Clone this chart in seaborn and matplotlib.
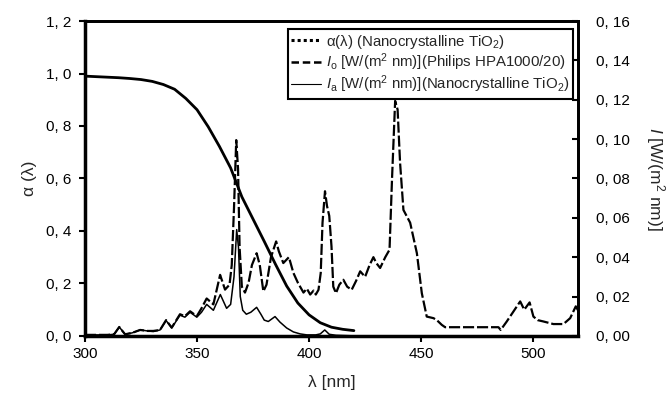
import numpy as np
import pandas as pd
import seaborn as sns
import matplotlib.pyplot as plt
from matplotlib.ticker import FuncFormatter, MultipleLocator
from matplotlib.lines import Line2D

# ---- data ----
alpha_wl = [300, 305, 310, 315, 320, 325, 330, 335, 340, 345, 350, 355, 360, 365, 370,
            375, 380, 385, 390, 395, 400, 405, 410, 415, 420]
alpha_val = [0.99, 0.988, 0.986, 0.984, 0.981, 0.977, 0.97, 0.958, 0.94, 0.905, 0.862,
             0.797, 0.722, 0.64, 0.53, 0.445, 0.36, 0.273, 0.19, 0.125, 0.08, 0.05,
             0.033, 0.025, 0.02]

io_wl = [300, 305, 310, 313, 315.3, 317.9, 321, 324.6, 328, 330.5, 333.5, 336.2, 338.7,
         342.4, 344.6, 346.9, 349.9, 352, 354.3, 357.3, 360.3, 362.5, 364.5, 365.5,
         366.5, 367.5, 368.3, 369, 370, 371.4, 373, 374.5, 376.6, 378, 379.6, 381, 383,
         385.3, 386.5, 388.5, 391, 393, 395, 397.5, 399, 400.5, 402, 403, 404.2, 405.2,
         406, 407.1, 408, 409, 410, 410.8, 412, 413.5, 415.3, 417, 419, 421, 422.8, 425,
         427, 428.7, 430, 431.7, 434, 435.9, 437, 438.4, 439.5, 440.6, 442.1, 445.1,
         448.1, 450.3, 452.5, 455.5, 457, 459.2, 460.7, 470, 484.5, 485.5, 488.2, 491.2,
         494.2, 496, 498.4, 500.1, 502, 504.6, 509, 513.5, 516.5, 519, 520]
io_val = [0.0005, 0.0005, 0.0005, 0.0008, 0.0045, 0.0008, 0.0015, 0.003, 0.0025, 0.0025,
          0.003, 0.008, 0.0042, 0.011, 0.010, 0.0125, 0.010, 0.014, 0.019, 0.016, 0.031,
          0.0235, 0.026, 0.036, 0.065, 0.0995, 0.085, 0.045, 0.025, 0.022, 0.027, 0.036,
          0.042, 0.036, 0.0226, 0.026, 0.040, 0.048, 0.043, 0.037, 0.040, 0.032, 0.027,
          0.022, 0.024, 0.021, 0.023, 0.021, 0.0234, 0.032, 0.0575, 0.0735, 0.066, 0.061,
          0.0455, 0.025, 0.0217, 0.026, 0.0285, 0.025, 0.0234, 0.028, 0.0328, 0.030,
          0.036, 0.040, 0.037, 0.0345, 0.040, 0.0438, 0.0795, 0.1194, 0.115, 0.088,
          0.064, 0.0575, 0.042, 0.0217, 0.0098, 0.009, 0.008, 0.0056, 0.0044, 0.0044,
          0.0044, 0.003, 0.0073, 0.0124, 0.0175, 0.0133, 0.017, 0.0098, 0.008, 0.0073,
          0.006, 0.006, 0.009, 0.015, 0.013]

ia_wl = [300, 305, 310, 313, 315.3, 317.9, 321, 324.6, 328, 330.5, 333.5, 336.2, 338.7,
         342.4, 344.6, 346.9, 349.9, 352, 354.3, 357.3, 360.4, 363.2, 365, 366.5, 367.7,
         368.5, 369.3, 370.4, 372, 374, 376.6, 378.5, 380, 381.8, 384.8, 387, 390, 393,
         396, 399, 403, 405, 407, 409, 412, 420]
ia_val = [0.0005, 0.0005, 0.0005, 0.0008, 0.0045, 0.0008, 0.0015, 0.003, 0.0025, 0.0022,
          0.003, 0.0078, 0.004, 0.0105, 0.0095, 0.012, 0.0095, 0.012, 0.016, 0.013, 0.021,
          0.014, 0.016, 0.03, 0.054, 0.045, 0.02, 0.013, 0.011, 0.012, 0.0145, 0.011,
          0.008, 0.0073, 0.0098, 0.007, 0.004, 0.002, 0.001, 0.0005, 0.0005, 0.001,
          0.003, 0.0008, 0.0003, 0.0]

legend_labels = [
    "α(λ) (Nanocrystalline TiO$_2$)",
    r"$I_\mathrm{o}$ [W/(m$^2$ nm)](Philips HPA1000/20)",
    r"$I_\mathrm{a}$ [W/(m$^2$ nm)](Nanocrystalline TiO$_2$)",
]

# ---- style ----
sns.set_theme(style="ticks")
plt.rcParams['font.family'] = ['Liberation Sans', 'DejaVu Sans']
plt.rcParams['mathtext.fontset'] = 'custom'
plt.rcParams['mathtext.rm'] = 'Liberation Sans'
plt.rcParams['mathtext.it'] = 'Liberation Sans:italic'
plt.rcParams['mathtext.bf'] = 'Liberation Sans:bold'

fig = plt.figure(figsize=(6.69, 3.97), dpi=100)
ax = fig.add_axes([0.127, 0.154, 0.737, 0.793])
ax2 = ax.twinx()

sns.lineplot(x=alpha_wl, y=alpha_val, ax=ax, color='black', linewidth=2.0,
             legend=False, sort=False)
sns.lineplot(x=io_wl, y=io_val, ax=ax2, color='black', linewidth=1.6,
             linestyle=(0, (5, 1.3)), legend=False, sort=False)
sns.lineplot(x=ia_wl, y=ia_val, ax=ax2, color='black', linewidth=1.1,
             legend=False, sort=False)

ax.set_xlim(300, 520)
ax.set_ylim(0, 1.2)
ax2.set_ylim(0, 0.16)

ax.xaxis.set_major_locator(MultipleLocator(50))
ax.yaxis.set_major_locator(MultipleLocator(0.2))
ax2.yaxis.set_major_locator(MultipleLocator(0.02))
ax.xaxis.set_major_formatter(FuncFormatter(lambda v, p: f"{v:.0f}"))
ax.yaxis.set_major_formatter(FuncFormatter(lambda v, p: f"{v:.1f}".replace('.', ', ')))
ax2.yaxis.set_major_formatter(FuncFormatter(lambda v, p: f"{v:.2f}".replace('.', ', ')))

ax.tick_params(axis='x', direction='out', length=4, width=1.5, labelsize=11,
               colors='black', pad=4)
ax.tick_params(axis='y', direction='out', length=4, width=1.5, labelsize=11,
               colors='black', pad=6)
ax2.tick_params(axis='y', direction='in', length=4, width=1.5, labelsize=11,
                colors='black', pad=13)

for a in (ax, ax2):
    for s in a.spines.values():
        s.set_visible(True)
        s.set_color('black')
        s.set_linewidth(2)
ax.spines['left'].set_linewidth(2.5)
ax.spines['bottom'].set_linewidth(2.5)

ax.set_xlabel("λ [nm]", fontsize=12.5, labelpad=10)
ax.set_ylabel("α (λ)", fontsize=12.5, labelpad=6)
ax2.set_ylabel(r"$I$ [W/(m$^2$ nm)]", fontsize=12.5, rotation=270, va='bottom',
               labelpad=10)

handles = [
    Line2D([], [], color='black', linewidth=2.2, linestyle=(0, (1, 1))),
    Line2D([], [], color='black', linewidth=1.8, linestyle=(0, (3, 1.5))),
    Line2D([], [], color='black', linewidth=0.8),
]
leg = ax2.legend(handles, legend_labels, loc='upper right', bbox_to_anchor=(0.996, 0.985),
                 frameon=True, fancybox=False, framealpha=1, edgecolor='black',
                 fontsize=10.8, handlelength=2.0, handletextpad=0.3, borderpad=0.25,
                 labelspacing=0.05, borderaxespad=0.2)
leg.get_frame().set_linewidth(1.5)

fig.savefig('out.png', dpi=100)
